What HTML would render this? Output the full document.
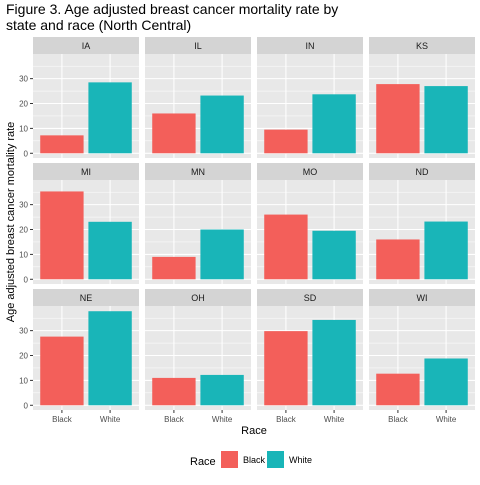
<!DOCTYPE html>
<html><head><meta charset="utf-8"><style>
body{margin:0;background:#fff;font-family:"Liberation Sans",Arial,sans-serif}
svg text{font-family:"Liberation Sans",Arial,sans-serif}
</style></head><body>
<svg id="chart" width="480" height="480" viewBox="0 0 480 480">
<text x="6" y="14" font-size="14" fill="#000">Figure 3. Age adjusted breast cancer mortality rate by</text>
<text x="6" y="30" font-size="14" fill="#000">state and race (North Central)</text>
<text transform="translate(14,222) rotate(-90)" text-anchor="middle" font-size="11" fill="#000">Age adjusted breast cancer mortality rate</text>
<text x="254" y="434" text-anchor="middle" font-size="11" fill="#000">Race</text>
<g id="panels"></g>
<g>
<text x="190" y="465" font-size="11" fill="#000">Race</text>
<rect x="221" y="451" width="17" height="17" fill="#F35F5A"/>
<text x="243" y="463" font-size="9" fill="#000">Black</text>
<rect x="267" y="451" width="17" height="17" fill="#19B5B8"/>
<text x="289" y="463" font-size="9" fill="#000">White</text>
</g>
</svg>
<script>
const states=["IA","IL","IN","KS","MI","MN","MO","ND","NE","OH","SD","WI"];
const races=["Black","White"];
const blackValues=[7.2,16,9.5,27.8,35.3,9,26,16,27.6,11,29.8,12.7];
const whiteValues=[28.5,23.2,23.7,27,23.1,20,19.5,23.2,37.8,12.2,34.3,18.8];
const yTicks=[0,10,20,30];
const colors=["#F35F5A","#19B5B8"];
const NS="http://www.w3.org/2000/svg";
const g=document.getElementById("panels");
const pw=106,ph=104,stripH=17,yMin=-1.9,yMax=39.9;
function mk(tag,attrs,parent){const e=document.createElementNS(NS,tag);for(const k in attrs)e.setAttribute(k,attrs[k]);parent.appendChild(e);return e;}
function yScale(v,top){return top+ph-(v-yMin)/(yMax-yMin)*ph;}
function xScale(i,left){return left+pw*(0.6+i)/2.2;}
states.forEach((s,idx)=>{
  const col=idx%4,row=Math.floor(idx/4);
  const left=33+col*112,stripTop=37+row*126,top=stripTop+stripH;
  const strip=mk("rect",{x:left,y:stripTop,width:pw,height:stripH,fill:"#D4D4D4"},g);
  
  
  const st=mk("text",{x:left+pw/2,y:stripTop+12,"text-anchor":"middle","font-size":"9",fill:"#1A1A1A"},g);
  st.textContent=s;
  
  
  const bg=mk("rect",{x:left,y:top,width:pw,height:ph,fill:"#E8E8E8"},g);
  
  
  for(let v=5;v<40;v+=10){const y=yScale(v,top);mk("line",{x1:left,x2:left+pw,y1:y,y2:y,stroke:"#fff","stroke-width":0.5},g);}
  yTicks.forEach(v=>{const y=yScale(v,top);mk("line",{x1:left,x2:left+pw,y1:y,y2:y,stroke:"#fff","stroke-width":1.1},g);});
  races.forEach((r,i)=>{const x=xScale(i,left);mk("line",{x1:x,x2:x,y1:top,y2:top+ph,stroke:"#fff","stroke-width":1.1},g);});
  const vals=[blackValues[idx],whiteValues[idx]];
  const bw=pw/2.2*0.9;
  vals.forEach((v,i)=>{
    const x=xScale(i,left)-bw/2,y0=yScale(0,top),y1=yScale(v,top);
    const b=mk("rect",{x:x,y:y1,width:bw,height:y0-y1,fill:colors[i]},g);
    
    
  });
  if(col===0){
    yTicks.forEach(v=>{const y=yScale(v,top);
      mk("line",{x1:left-3,x2:left,y1:y,y2:y,stroke:"#333","stroke-width":1},g);
      const t=mk("text",{x:left-5,y:y+3,"text-anchor":"end","font-size":"8",fill:"#4D4D4D"},g);
      t.textContent=v;
      
      
    });
  }
  if(row===2){
    races.forEach((r,i)=>{const x=xScale(i,left);
      mk("line",{x1:x,x2:x,y1:top+ph,y2:top+ph+3,stroke:"#333","stroke-width":1},g);
      const t=mk("text",{x:x,y:top+ph+12,"text-anchor":"middle","font-size":"8",fill:"#4D4D4D"},g);
      t.textContent=r;
      
      
    });
  }
});
</script>
</body></html>
